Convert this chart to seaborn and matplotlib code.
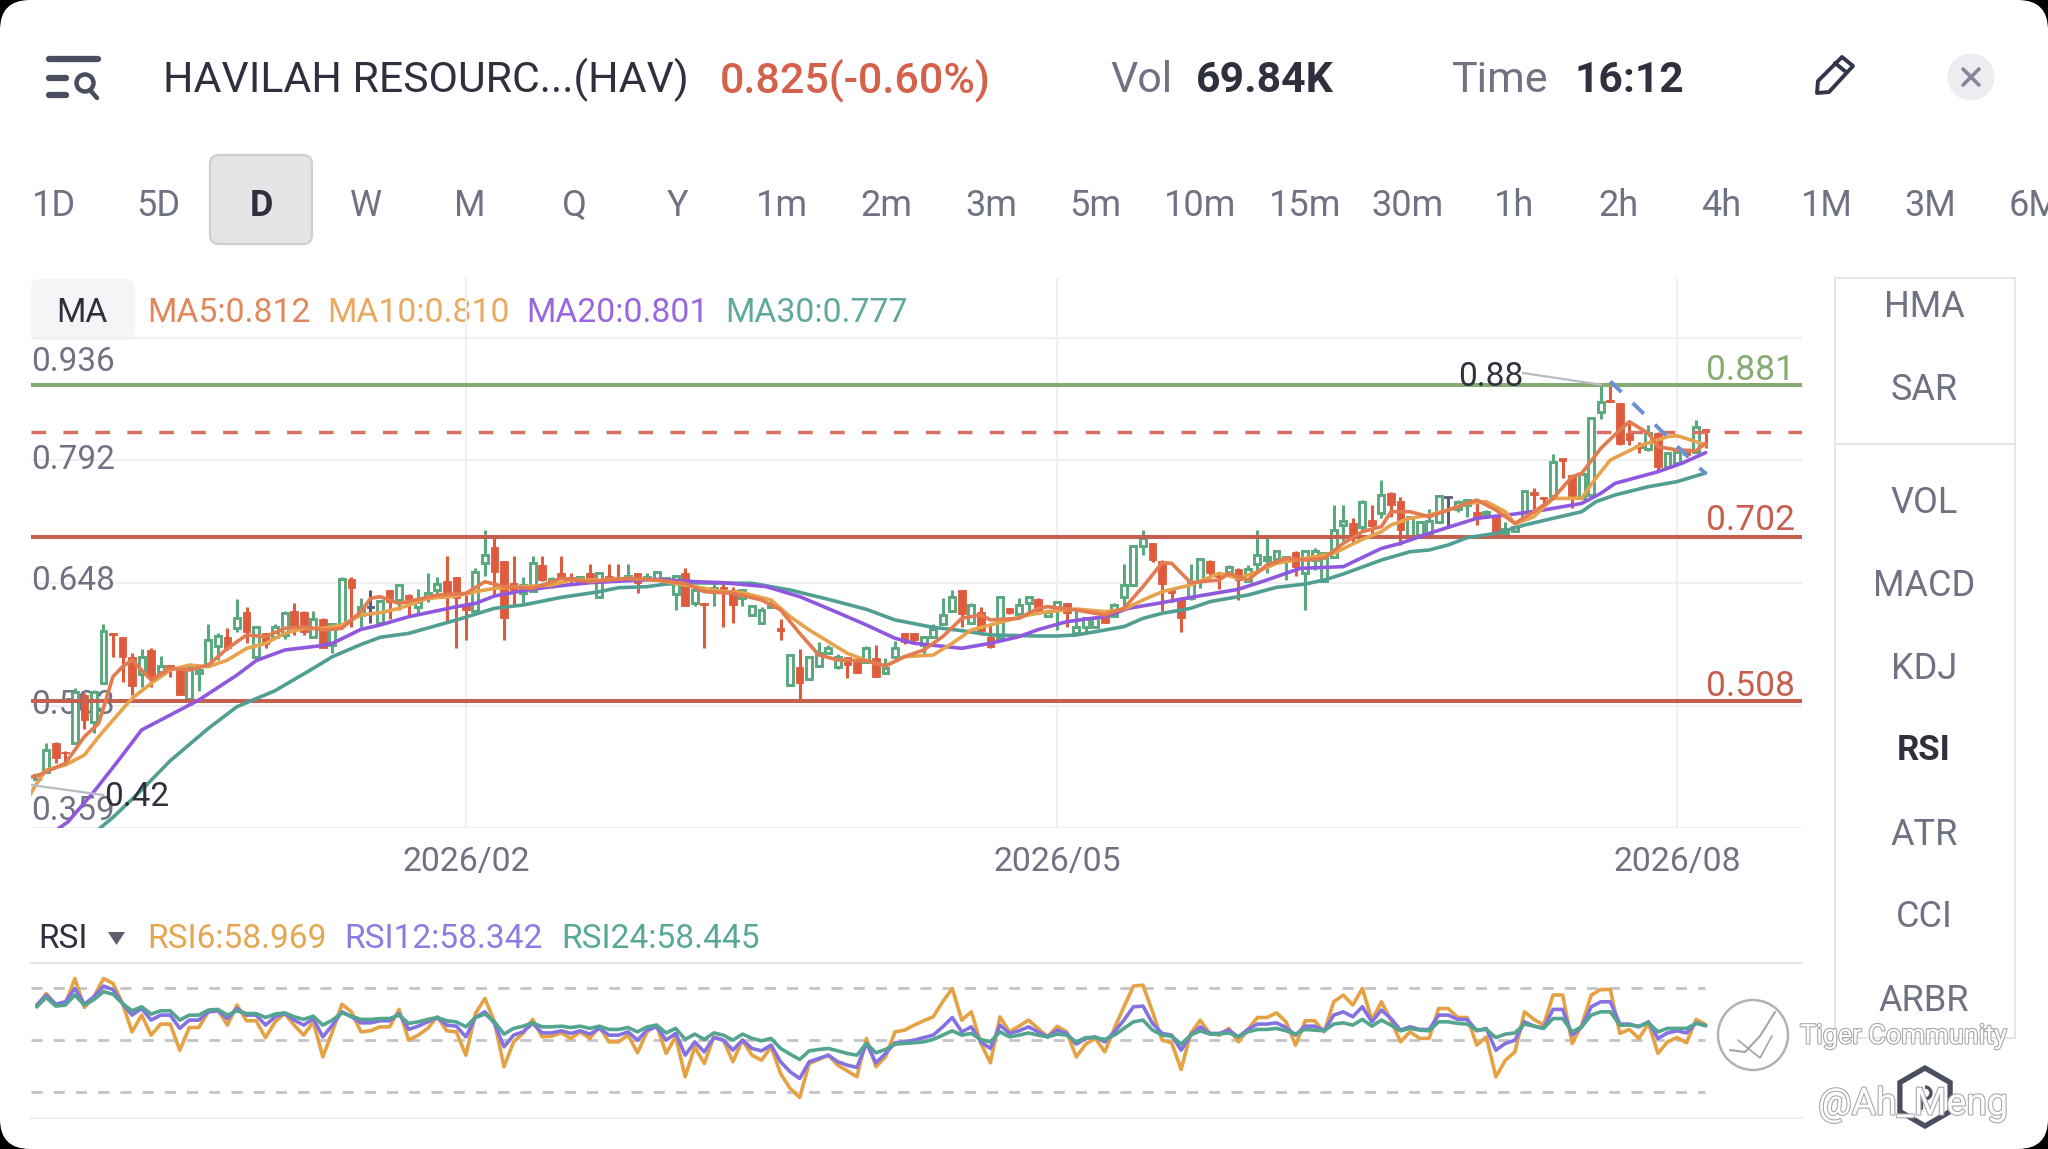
import matplotlib
matplotlib.use("Agg")
import matplotlib.pyplot as plt
import matplotlib.patheffects as pe
from matplotlib.patches import FancyBboxPatch, Circle, Rectangle, RegularPolygon, Polygon, Arc
import seaborn as sns

# ---------------- candles (body top, body bottom, wick high, wick low, direction) ----------------
direction = ("GGRRGRGGRR" "RGRGRRGGGG" "RGRGRGGRRG" "RGGRGDGRGR" "GGGRRRGGRR" "RGGRGRRGRG"
             "RRGRGGGGRG" "RGRRGGGGRG" "RGGGGRRGRG" "GRRGGGGRGR" "RGRGGRGGRG" "GGRGGGGRRR"
             "RGGRRGRGGG" "GGRGGGGGRG" "RGRRGGGGDG" "GRGRGGGRRG" "RRGGGRRRRG" "RGGRGR")
body_top = [.421,.4507,.4593,.4487,.5194,.5155,.5194,.5909,.5881,.5842,
            .5606,.5606,.5685,.5496,.5508,.5457,.5477,.5449,.5803,.5850,
            .5842,.6058,.6136,.5952,.5881,.5952,.6117,.6148,.6136,.6046,
            .6046,.5991,.6517,.6517,.6195,.6200,.6262,.6392,.6450,.6333,
            .6254,.6352,.6458,.6497,.6541,.6215,.6607,.6804,.6894,.6737,
            .6470,.6450,.6706,.6686,.6517,.6588,.6549,.6549,.6588,.6596,
            .6556,.6549,.6556,.6588,.6549,.6607,.6529,.6556,.6596,.6392,
            .6243,.6412,.6431,.6392,.6392,.6204,.6157,.6235,.5941,.5626,
            .5489,.5607,.5646,.5705,.5607,.5607,.5548,.5705,.5587,.5469,
            .5705,.5882,.5882,.5842,.5929,.6098,.6306,.6392,.6215,.6137,
            .5842,.6306,.6176,.6215,.6306,.6282,.6137,.6254,.6235,.5952,
            .6058,.6058,.6078,.6215,.6451,.6910,.7000,.6941,.6737,.6400,
            .6282,.6490,.6753,.6737,.6568,.6659,.6635,.6635,.6804,.6784,
            .6855,.6784,.6843,.6855,.6855,.6824,.7096,.7201,.7180,.7424,
            .7222,.7511,.7538,.7444,.7255,.7197,.7208,.7499,.7499,.7432,
            .7452,.7314,.7314,.7255,.7106,.7138,.7562,.7550,.7491,.7903,
            .7943,.7746,.7758,.8414,.8610,.8629,.8590,.8237,.8100,.8245,
            .8245,.8001,.8021,.8021,.8308,.8284]
body_bot = [.417,.4252,.4409,.4467,.4593,.4860,.4840,.5292,.5861,.5606,
            .5265,.5402,.5371,.5430,.5488,.5155,.5104,.5410,.5520,.5732,
            .5704,.5940,.5900,.5598,.5756,.5842,.5861,.5960,.5900,.5842,
            .5704,.5744,.5991,.6411,.6097,.6175,.5999,.6254,.6274,.6234,
            .6187,.6293,.6392,.6333,.6293,.6156,.6148,.6706,.6607,.6058,
            .6392,.6360,.6380,.6509,.6490,.6517,.6509,.6470,.6529,.6305,
            .6517,.6517,.6529,.6478,.6517,.6517,.6497,.6344,.6203,.6234,
            .6216,.6372,.6400,.6215,.6294,.6098,.6000,.6196,.5913,.5273,
            .5301,.5340,.5497,.5646,.5481,.5509,.5410,.5548,.5363,.5410,
            .5599,.5784,.5803,.5744,.5835,.5992,.6149,.6109,.6000,.5913,
            .5717,.5823,.6117,.6109,.6243,.6137,.6085,.6156,.6117,.5881,
            .5952,.5960,.6007,.6085,.6305,.6451,.6910,.6745,.6462,.6352,
            .6058,.6293,.6502,.6596,.6549,.6608,.6510,.6502,.6698,.6745,
            .6753,.6745,.6659,.6596,.6745,.6502,.6781,.7159,.7046,.7138,
            .7147,.7295,.7393,.7098,.7020,.7040,.7059,.7197,.7480,.7342,
            .7393,.7255,.7287,.7051,.7059,.7091,.7224,.7511,.7460,.7499,
            .7915,.7499,.7471,.7511,.8492,.8610,.8111,.8159,.8060,.8049,
            .7844,.7844,.7884,.7982,.8021,.8249]
wick_high = [.424,.4593,.4605,.4495,.5241,.5174,.5214,.5991,.5885,.5842,
             .5645,.5693,.5704,.5614,.5508,.5469,.5508,.5469,.5991,.5889,
             .5940,.6286,.6195,.5960,.5889,.5991,.6148,.6242,.6148,.6148,
             .6058,.5999,.6549,.6549,.6293,.6392,.6274,.6392,.6450,.6344,
             .6399,.6596,.6549,.6792,.6541,.6333,.6647,.7098,.7000,.6737,
             .6792,.6549,.6792,.6792,.6541,.6792,.6596,.6556,.6698,.6607,
             .6698,.6698,.6698,.6596,.6588,.6607,.6529,.6556,.6647,.6431,
             .6243,.6463,.6471,.6423,.6400,.6204,.6196,.6274,.6047,.5638,
             .5693,.5607,.5783,.5744,.5638,.5607,.5548,.5732,.5744,.5587,
             .5795,.5882,.5882,.5850,.5992,.6294,.6392,.6392,.6243,.6196,
             .5980,.6314,.6184,.6294,.6306,.6294,.6156,.6266,.6243,.6176,
             .6058,.6070,.6085,.6243,.6698,.6910,.7098,.6941,.6745,.6411,
             .6305,.6698,.6753,.6745,.6588,.6686,.6647,.6686,.7098,.7020,
             .6863,.6792,.6855,.6855,.6882,.6843,.7391,.7391,.7243,.7454,
             .7391,.7687,.7550,.7491,.7263,.7208,.7342,.7511,.7499,.7452,
             .7460,.7452,.7334,.7275,.7197,.7138,.7562,.7589,.7491,.7994,
             .7943,.7746,.7766,.8414,.8826,.8846,.8590,.8394,.8139,.8335,
             .8257,.8001,.8041,.8041,.8394,.8284]
wick_low = [.414,.4232,.4350,.4330,.4585,.4750,.4703,.5284,.5606,.5304,
            .5155,.5253,.5253,.5363,.5363,.5155,.5096,.5206,.5508,.5567,
            .5685,.5900,.5763,.5575,.5704,.5834,.5810,.5861,.5861,.5834,
            .5704,.5653,.5979,.5960,.5960,.6000,.5991,.6046,.6156,.6069,
            .6117,.6254,.6360,.6019,.5704,.5803,.6136,.6556,.6313,.5803,
            .6215,.6234,.6372,.6501,.6411,.6517,.6470,.6470,.6509,.6293,
            .6509,.6509,.6517,.6352,.6509,.6509,.6490,.6156,.6203,.6203,
            .5705,.6204,.5952,.6007,.6204,.6086,.5992,.6196,.5803,.5261,
            .5089,.5332,.5489,.5638,.5458,.5352,.5410,.5536,.5363,.5403,
            .5587,.5756,.5764,.5626,.5823,.5980,.6137,.5952,.5992,.5862,
            .5705,.5811,.6109,.6098,.6137,.6125,.6078,.5921,.5960,.5873,
            .5901,.5952,.6007,.6078,.6195,.6439,.6804,.6725,.6148,.6254,
            .5901,.6274,.6411,.6568,.6400,.6596,.6274,.6490,.6619,.6588,
            .6745,.6510,.6557,.6156,.6627,.6490,.6768,.6970,.6949,.7096,
            .7046,.7236,.7255,.6922,.7020,.7040,.7040,.7185,.7118,.7314,
            .7255,.7157,.7236,.7020,.7051,.7079,.7208,.7346,.7373,.7491,
            .7707,.7354,.7460,.7499,.8402,.8610,.8100,.8100,.8001,.8033,
            .7805,.7836,.7876,.7954,.8009,.8060]

# ---------------- moving averages, read at selected candles ----------------
ma5_i = [-1,0,1,3,5,6.5,8,9,10,12,14,16,18,20,22,24,26,28,30,32,34,35,36,38,40,42,45,47,49,52,55,58,62,65,68,
         70,73,76,78,80,82,84,87,89,91,93,95,97,99,100,103,105,106,109,112,114,116,118,119,121,124,125,127,129,131,133,135,137,139,141,
         142,144,146,148,150,151,153,155,157,159,161,162,164,166,167,169,170,172,174,175]
ma5 = [.418,.4201,.4252,.4350,.4664,.4821,.5371,.5488,.5567,.5331,.5469,.5449,.5508,.5704,.5861,.5842,.5940,.5960,.5920,.5940,.6136,.6293,.6313,.6234,.6281,.6333,.6352,.6490,.6431,.6411,.6529,.6490,.6529,.6509,.6470,
       .6372,.6353,.6274,.6157,.5882,.5627,.5568,.5560,.5497,.5607,.5685,.5842,.6058,.6098,.6039,.6058,.6176,.6195,.6156,.6097,.6176,.6431,.6713,.6706,.6478,.6510,.6588,.6510,.6686,.6765,.6745,.6765,.6941,.7079,.7138,
       .7314,.7314,.7255,.7334,.7412,.7452,.7334,.7177,.7314,.7471,.7727,.7766,.8060,.8276,.8374,.8237,.8080,.8041,.8033,.812]
ma10_i = [-1,0,1,3,5,6.5,8,10,12,14,16,18,20,22,24,26,28,30,32,34,36,38,41,44,46,48,51,54,56,59,62,65,68,
          70,72,74,77,79,81,83,85,87,89,91,94,96,98,100,102,104,106,109,112,114,116,118,121,124,126,128,130,133,136,139,141,
          142,144,146,148,150,152,154,155,157,159,162,163.2,165,168,171,172,174,175]
ma10 = [.392,.4114,.4271,.4330,.4448,.4664,.4860,.5115,.5292,.5449,.5508,.5488,.5567,.5704,.5763,.5881,.5940,.5940,.5979,.6097,.6124,.6175,.6293,.6321,.6372,.6411,.6431,.6450,.6509,.6509,.6529,.6509,.6450,
        .6412,.6372,.6361,.6274,.6078,.5921,.5784,.5646,.5560,.5497,.5607,.5626,.5764,.5921,.5980,.6039,.6098,.6137,.6168,.6137,.6164,.6274,.6372,.6451,.6588,.6529,.6608,.6706,.6765,.6824,.6989,.7079,
        .7157,.7236,.7275,.7334,.7412,.7432,.7314,.7169,.7256,.7471,.7471,.7668,.7923,.8088,.8198,.8209,.8139,.810]
ma20_i = [2.3,3.3,6,8.6,11,15,17,21,23,26,29.5,31,34,36,39,41,44,46,48,51,54,58,62,65,69,
          72,76.5,80,83.5,87,90,92,97,100,103,105,108,112,114.5,118,121,126,129,132.5,137,141,
          143,146,151,155,158,162,164,165.5,170,172.5,175]
ma20 = [.3584,.3663,.4016,.4389,.4743,.4978,.5096,.5390,.5559,.5685,.5732,.5763,.5928,.5979,.6077,.6124,.6195,.6234,.6321,.6384,.6431,.6478,.6501,.6517,.6490,
        .6478,.6431,.6314,.6149,.5980,.5823,.5764,.5705,.5764,.5842,.5925,.6019,.6078,.6176,.6243,.6305,.6400,.6510,.6647,.6667,.6882,
        .6941,.7059,.7236,.7287,.7334,.7412,.7530,.7648,.7785,.7884,.801]
ma30_i = [6.6,8,11,14,18,21,25,29,31,34,36,39,44,48,51,55,59,61,64,66,69,
          75,79,83,87,90,94,97,100,105,107,109,111,114,116,118,121,123,127,130,133,135,137,141,
          144,146,148,150,153,156,159,162,163.5,165.5,169,172,175]
ma30 = [.3584,.3714,.4036,.4381,.4762,.5017,.5206,.5469,.5606,.5750,.5834,.5881,.6038,.6176,.6215,.6305,.6372,.6419,.6431,.6462,.6475,
        .6471,.6392,.6282,.6164,.6039,.5952,.5913,.5862,.5850,.5850,.5862,.5901,.5960,.6058,.6117,.6176,.6254,.6333,.6423,.6462,.6510,.6580,.6745,
        .6843,.6863,.6922,.7008,.7059,.7157,.7236,.7314,.7432,.7511,.7609,.7668,.777]

# ---------------- RSI, one value per candle ----------------
rsi6 = [69.3,77.0,70.3,70.8,85.7,68.9,75.1,85.7,82.8,71.2,54.8,64.5,52.9,59.3,59.3,44.2,57.3,57.3,66.4,67.4,
        58.7,70.3,61.2,61.2,51.5,60.6,65.4,58.7,52.9,60.6,40.3,54.8,70.8,66.4,54.8,55.4,57.7,57.7,67.8,50.0,
        52.9,56.8,63.5,55.4,54.8,41.3,65.4,74.1,60.6,34.6,49.0,53.9,62.0,51.9,52.3,54.2,51.0,54.8,51.0,57.7,
        49.0,49.0,52.9,42.7,54.8,58.7,42.3,51.9,28.8,46.1,36.5,51.9,50.0,37.5,50.0,41.3,38.4,46.1,30.7,22.0,
        16.8,36.5,38.8,41.3,35.5,32.2,28.8,51.0,34.6,40.3,54.8,55.8,58.7,61.2,63.5,72.2,79.9,61.6,66.4,48.1,
        36.9,63.5,54.8,58.1,61.6,56.8,51.9,58.1,54.8,40.3,47.7,51.0,43.2,56.8,69.3,81.3,81.8,66.4,50.0,48.5,
        33.0,53.9,61.6,53.9,52.9,56.8,49.0,56.2,63.1,63.1,65.8,60.6,47.1,61.2,61.2,54.8,72.2,76.1,70.3,79.9,
        61.6,72.2,61.6,49.0,54.8,51.0,51.0,68.3,68.3,63.1,63.1,47.1,51.9,28.8,38.4,43.2,66.4,62.0,58.7,76.1,
        76.1,48.1,58.7,76.1,79.3,79.3,53.9,56.2,51.0,59.7,42.3,49.0,51.5,48.5,62.0,58.969]
rsi12 = [70.3,76.1,70.8,72.2,79.9,70.8,75.1,81.3,79.3,71.2,64.5,68.3,61.6,64.5,64.5,56.8,61.6,61.6,66.4,67.0,
         62.5,68.3,64.5,64.5,58.7,63.5,65.4,61.6,58.7,62.5,51.9,58.7,66.4,63.5,60.0,60.0,61.2,61.2,65.4,56.2,
         58.1,60.6,63.1,58.7,58.1,51.9,63.1,66.4,59.7,46.1,52.9,54.8,59.7,54.2,54.2,55.4,53.9,55.4,53.5,56.8,
         52.9,52.9,54.8,50.0,55.8,57.7,50.0,53.9,41.3,49.0,43.2,51.5,50.0,44.2,50.0,45.2,43.8,47.1,37.5,31.7,
         27.8,37.5,39.4,41.3,37.5,35.5,34.2,48.1,36.9,42.3,48.5,49.0,50.0,51.5,52.9,57.7,63.1,54.8,57.7,49.0,
         45.2,58.7,53.9,55.4,57.7,54.8,51.9,55.8,53.9,47.7,51.0,51.9,49.0,54.8,61.6,69.3,69.7,59.7,53.9,52.9,
         44.2,52.9,57.7,53.9,53.9,55.8,51.9,56.2,59.3,59.3,60.0,57.3,52.9,58.1,58.1,55.4,64.5,66.4,63.5,69.3,
         60.6,67.4,62.5,55.8,57.7,56.2,56.2,64.5,64.5,62.0,62.0,55.4,56.8,44.2,48.1,50.0,60.6,58.1,56.8,67.8,
         67.8,52.9,57.7,69.3,72.2,72.2,59.3,59.3,57.7,60.6,51.0,54.2,55.4,54.2,60.0,58.342]
rsi24 = [69.3,74.7,69.7,70.3,76.1,70.3,73.5,78.0,76.6,71.2,67.0,69.3,65.1,67.0,67.0,61.6,64.5,64.5,67.4,67.8,
         64.5,67.0,65.4,65.4,63.1,65.1,65.8,63.5,62.0,63.9,58.7,61.6,65.8,63.9,62.0,62.0,62.5,62.5,64.5,59.7,
         60.6,62.0,63.1,61.2,60.6,57.7,63.1,65.1,60.6,53.5,56.8,58.1,60.0,57.7,57.7,58.1,57.3,58.1,56.8,58.1,
         56.2,56.2,57.3,54.8,57.7,58.7,54.2,56.8,50.4,53.5,50.4,54.2,52.9,50.0,53.5,51.0,49.6,51.0,45.2,41.9,
         38.8,43.8,44.6,45.2,43.8,42.3,41.3,48.1,42.7,44.6,47.7,48.1,48.5,49.0,50.4,52.9,55.4,52.9,53.9,50.4,
         49.0,54.8,51.9,52.9,54.2,52.9,51.9,53.5,52.9,49.0,51.5,51.5,50.4,52.9,56.8,60.6,61.6,55.8,52.9,52.3,
         47.7,52.9,55.4,53.5,53.5,54.2,51.9,54.8,56.2,56.2,56.8,55.4,53.5,56.2,55.8,55.4,59.3,60.0,58.7,62.0,
         58.1,61.6,58.7,55.4,56.8,55.8,55.4,60.6,60.6,59.7,59.3,55.8,56.2,51.5,53.5,54.2,59.3,58.1,56.8,62.5,
         62.5,54.8,57.7,64.5,66.4,66.4,58.7,58.7,58.1,60.0,54.8,56.8,56.8,56.8,59.7,58.445]

price_ticks = [.936,.792,.648,.503,.359]
rsi_levels = [80,50,20]
date_ticks = [45,107,172]
date_labels = ["2026/02","2026/05","2026/08"]
levels_red = [.702,.508]
level_green = .881
last_price = .825
tabs = ["1D","5D","D","W","M","Q","Y","1m","2m","3m","5m","10m","15m","30m","1h","2h","4h","1M","3M","6M"]
side_items = ["HMA","SAR","VOL","MACD","KDJ","RSI","ATR","CCI","ARBR"]

# ---------------- theme ----------------
sns.set_theme(style="white")
plt.rcParams["font.family"] = ["Roboto", "DejaVu Sans"]

W, H = 2048, 1149
fig = plt.figure(figsize=(W/100, H/100), dpi=100, facecolor="black")

def px_axes(left, top, right, bottom, z):
    a = fig.add_axes([left/W, 1-bottom/H, (right-left)/W, (bottom-top)/H], zorder=z)
    a.patch.set_visible(False)
    return a

DARK, GRAY = "#2e303e", "#6f7283"
C_G, C_R, C_D = "#5aa87e", "#de5b3e", "#5c5c7a"
C_MA5, C_MA10, C_MA20, C_MA30 = "#e27c50", "#e9a24c", "#8f58de", "#519f92"
C_LG, C_LR = "#86ab72", "#c5604f"

# ---------------- UI layer in pixel coordinates ----------------
ui = px_axes(0, 0, W, H, 0)
ui.set_xlim(0, W); ui.set_ylim(H, 0); ui.axis("off")
ui.add_patch(FancyBboxPatch((0, 0), W, H, boxstyle="round,pad=0,rounding_size=30", fc="white", ec="none", zorder=0))

def t(x, y, s, size, color=GRAY, ha="left", va="center", weight="normal", a=ui, **kw):
    return a.text(x, y, s, fontsize=size, color=color, ha=ha, va=va, fontweight=weight, **kw)

# header
for y0, x0, x1 in [(59, 49, 98), (78, 49, 66), (95, 49, 66)]:
    ui.plot([x0, x1], [y0, y0], color="#4a4d60", lw=4.5, solid_capstyle="round")
ui.add_patch(Circle((85, 83), 8.5, fc="none", ec="#4a4d60", lw=3.2))
ui.plot([90, 97], [90, 98], color="#4a4d60", lw=3.2)
t(163, 80, "HAVILAH RESOURC...(HAV)", 30.8, DARK)
t(720, 80, "0.825(-0.60%)", 31, "#d5614b", weight="medium")
t(1110, 80, "Vol", 31, GRAY)
t(1196, 80, "69.84K", 30.8, DARK, weight="bold")
t(1452, 80, "Time", 31, GRAY)
t(1574, 80, "16:12", 30.6, DARK, weight="bold")
ui.add_patch(Polygon([(1817, 93), (1818, 81), (1842, 57), (1853, 66), (1829, 92)], closed=True, fc="none", ec="#33354a", lw=2.8, joinstyle="round"))
ui.plot([1835, 1846], [63, 72], color="#33354a", lw=2.8)
ui.add_patch(Circle((1971, 77), 23.5, fc="#ededf1", ec="none"))
ui.plot([1963, 1979], [69, 85], color="#85869b", lw=2.6)
ui.plot([1963, 1979], [85, 69], color="#85869b", lw=2.6)

# tabs
tab_x = [41,121,200,280,360,440,519,599,679,759,839,919,999,1078,1159,1239,1318,1399,1478,1558]
ui.add_patch(FancyBboxPatch((210, 155), 102, 89, boxstyle="round,pad=0,rounding_size=9", fc="#e5e5e7", ec="#cfcfd2", lw=1.6, zorder=1))
for lab, xc in zip(tabs, tab_x):
    sel = lab == "D"
    t(xc*1.306, 206, lab, 26, DARK if sel else GRAY, ha="center", weight="bold" if sel else "normal", zorder=2)

# MA legend row
ui.add_patch(FancyBboxPatch((31, 279), 104, 61, boxstyle="round,pad=0,rounding_size=9", fc="#f5f5f7", ec="none", zorder=1))
t(82, 313, "MA", 24.3, DARK, ha="center", zorder=2)
for s, x0, c in [("MA5:0.812", 147, "#e0875c"), ("MA10:0.810", 327, "#e9a95f"), ("MA20:0.801", 526, "#9a66e0"), ("MA30:0.777", 725, "#5fa99c")]:
    t(x0, 313, s, 24.3, c, zorder=2)

# side panel
ui.add_patch(Rectangle((1835, 278), 180, 760, fc="white", ec="#e6e6ea", lw=1.5, zorder=1))
ui.plot([1835, 2015], [444, 444], color="#e6e6ea", lw=1.5, zorder=2)
for lab, yc in zip(side_items, [304, 387, 500, 583, 666, 748, 832, 914, 998]):
    sel = lab == "RSI"
    t(1924, yc+3, lab, 26 if not sel else 25, DARK if sel else GRAY, ha="center", weight="bold" if sel else "normal", zorder=3)

# RSI legend row
t(38, 939.5, "RSI", 24, DARK)
ui.add_patch(Polygon([(108, 932), (125, 932), (116.5, 945)], closed=True, fc="#5d5f75", ec="none"))
for s, x0, c in [("RSI6:58.969", 147, "#e5a650"), ("RSI12:58.342", 344, "#8c7be0"), ("RSI24:58.445", 561, "#58a897")]:
    t(x0, 939.5, s, 24.1, c)

# ---------------- price panel ----------------
X0, DX = 36.7, 9.537
YTOP, PXU = 338, 849
def xd(px):
    return (px - X0) / DX
def yd(py):
    return .936 - (py - YTOP) / PXU

ax = px_axes(31, 278, 1802, 828, 2)
ax.set_xlim(xd(31), xd(1802))
ax.set_ylim(yd(828), yd(278))
sns.despine(ax=ax, left=True, bottom=True, top=True, right=True)
ax.set_yticks(price_ticks)
ax.set_yticklabels([])
ax.tick_params(axis="y", length=0)
ax.set_xticks(date_ticks)
ax.set_xticklabels(date_labels)
ax.tick_params(axis="x", length=0, pad=13, labelsize=24.3, labelcolor=GRAY)
ax.grid(True, color="#efeff1", lw=1.5, zorder=0)
ax.set_axisbelow(True)

# price labels sit inside the panel, at the left edge
for v, py in zip(price_ticks, [362, 460, 581, 705, 811]):
    ax.text(xd(31), yd(py), f"{v:.3f}", fontsize=24, color=GRAY, ha="left", va="center", zorder=1)

col = {"G": C_G, "R": C_R, "D": C_D}
idx = list(range(len(direction)))
cols = [col[d] for d in direction]
ax.vlines(idx, wick_low, wick_high, colors=cols, lw=2.2, zorder=2)
for i, d in zip(idx, direction):
    h = body_top[i] - body_bot[i]
    if d == "G":
        ax.bar(i, h, bottom=body_bot[i], width=.62, fc="white", ec=C_G, lw=2.1, zorder=3)
    else:
        ax.bar(i, h, bottom=body_bot[i], width=.8, fc=col[d], ec=col[d], lw=.6, zorder=3)

ax.axhline(level_green, color=C_LG, lw=2.9, zorder=4)
for v in levels_red:
    ax.axhline(v, color=C_LR, lw=2.9, zorder=4)
ax.axhline(last_price, color="#d9705f", lw=2.5, dashes=(4.2, 5), zorder=4)

for xs, ys, c in [(ma30_i, ma30, C_MA30), (ma20_i, ma20, C_MA20), (ma10_i, ma10, C_MA10), (ma5_i, ma5, C_MA5)]:
    sns.lineplot(x=xs, y=ys, ax=ax, color=c, lw=2.6, estimator=None, errorbar=None, zorder=5, legend=False)
ax.set_xlim(xd(31), xd(1802))
ax.set_ylim(yd(828), yd(278))

# drawn trend line
ax.plot([165, 175], [.885, .776], color="#6b92d8", lw=2.8, dashes=(4, 4), zorder=6)

# extreme annotations
ax.plot([xd(31), 7.0], [yd(785), yd(795)], color="#b9bac4", lw=1.6, zorder=6)
ax.plot([xd(1523), 164], [yd(373), .881], color="#b9bac4", lw=1.6, zorder=6)
ax.text(xd(104), yd(797), "0.42", fontsize=24, color=DARK, va="center", ha="left", zorder=7)
ax.text(xd(1458), yd(377), "0.88", fontsize=24, color=DARK, va="center", ha="left", zorder=7)
ax.text(xd(1795), yd(370), "0.881", fontsize=25.5, color=C_LG, va="center", ha="right", zorder=7)
ax.text(xd(1795), yd(521), "0.702", fontsize=25.5, color=C_LR, va="center", ha="right", zorder=7)
ax.text(xd(1795), yd(686), "0.508", fontsize=25.5, color=C_LR, va="center", ha="right", zorder=7)

# ---------------- RSI panel ----------------
bx = px_axes(31, 963, 1802, 1118, 2)
sns.lineplot(x=idx, y=rsi6, ax=bx, color="#e5a245", lw=2.6, estimator=None, errorbar=None, legend=False, zorder=4)
sns.lineplot(x=idx, y=rsi12, ax=bx, color="#8472e2", lw=2.6, estimator=None, errorbar=None, legend=False, zorder=5)
sns.lineplot(x=idx, y=rsi24, ax=bx, color="#53a58f", lw=2.6, estimator=None, errorbar=None, legend=False, zorder=6)
for v in rsi_levels:
    bx.plot([xd(31), xd(1705)], [v, v], color="#c4c4c8", lw=2, dashes=(4, 4), zorder=2)
bx.set_xlim(xd(31), xd(1802))
bx.set_ylim(20-26/1.728, 80+25.3/1.728)
bx.set_xticks([]); bx.set_yticks([])
bx.set_xlabel(""); bx.set_ylabel("")
bx.spines["left"].set_visible(False); bx.spines["right"].set_visible(False)
bx.spines["top"].set_color("#e4e4e8"); bx.spines["bottom"].set_color("#ededf0")
bx.spines["top"].set_linewidth(1.4); bx.spines["bottom"].set_linewidth(1.6)

# ---------------- watermark layer ----------------
wm = px_axes(0, 0, W, H, 5)
wm.set_xlim(0, W); wm.set_ylim(H, 0); wm.axis("off")
outline = [pe.withStroke(linewidth=1.6, foreground="#a9a9ad")]
wm.add_patch(Circle((1753, 1035), 35, fc="white", ec="#a5a5a9", lw=1.8, alpha=.85))
wm.plot([1730, 1745, 1760, 1775], [1050, 1052, 1036, 1012], color="#a5a5a9", lw=1.5)
wm.plot([1738, 1760, 1772], [1040, 1058, 1036], color="#a5a5a9", lw=1.2)
t(1800, 1036, "Tiger Community", 19.5, "white", a=wm, path_effects=outline)
wm.add_patch(RegularPolygon((1925, 1097), 6, radius=29, fc="none", ec="#4a4e60", lw=3.8))
wm.plot([1921, 1921], [1088, 1108], color="#4a4e60", lw=2.4)
wm.add_patch(Arc((1925, 1093), 12, 12, theta1=-90, theta2=90, ec="#4a4e60", lw=2.4))
t(1818, 1104, "@Ah_Meng", 27, "white", a=wm, path_effects=outline)

fig.savefig("out.png", dpi=100, facecolor="black")
